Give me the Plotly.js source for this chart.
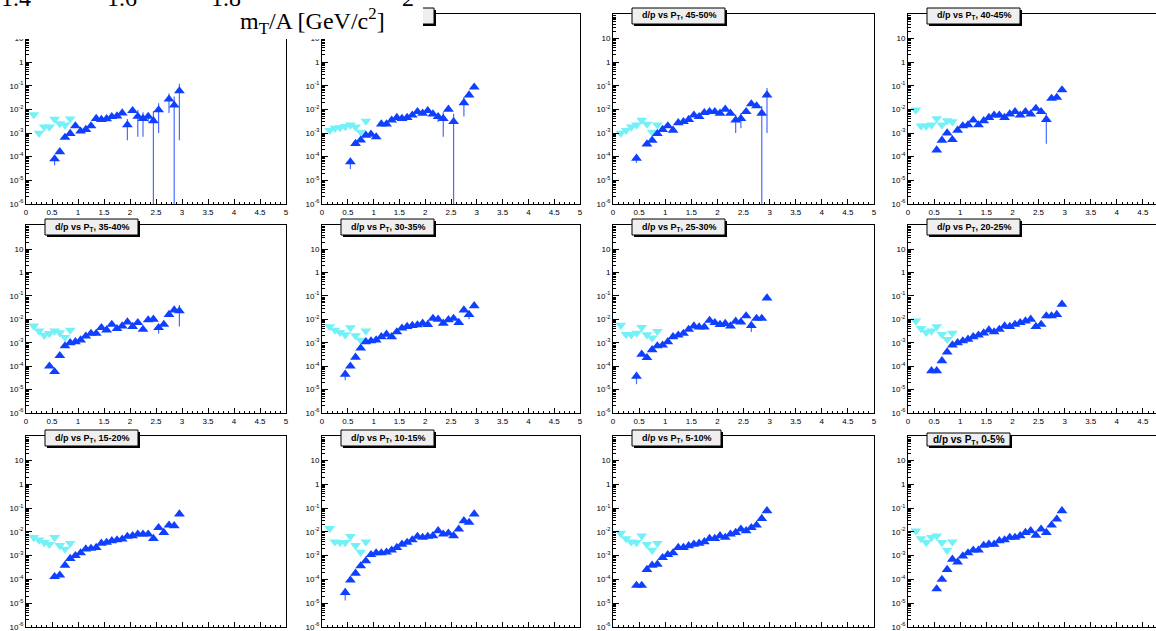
<!DOCTYPE html>
<html><head><meta charset="utf-8">
<script src="https://cdn.plot.ly/plotly-3.0.1.min.js"></script>
<style>html,body{margin:0;padding:0;overflow:hidden;background:#fff;width:1156px;height:631px}#chart{width:1172px;height:631px}</style>
</head><body><div id="chart"></div><script>
// ---- data ----
const ptBlue = [0.45,0.55,0.65,0.75,0.85,0.95,1.05,1.15,1.25,1.35,1.45,1.55,1.65,1.75,1.85,1.95,2.05,2.15,2.25,2.35,2.45,2.55,2.65,2.75,2.85,2.95];
const ptCyan = [0.15,0.25,0.35,0.45,0.55,0.65,0.75,0.85];
const panelLabels = ['', '', '45-50%', '40-45%', '35-40%', '30-35%', '25-30%', '20-25%', '15-20%', '10-15%', '5-10%', '0-5%'];
const yTickVals = [1e-6,1e-5,1e-4,1e-3,1e-2,1e-1,1,10];
const yTickText = ['10<sup>-6</sup>','10<sup>-5</sup>','10<sup>-4</sup>','10<sup>-3</sup>','10<sup>-2</sup>','10<sup>-1</sup>','1','10'];

const cyanP1  = [6e-3,1e-3,1.8e-3,1.8e-3,3.9e-3,2.5e-3,2.2e-3,4e-3];
const cyanP2  = [1.3e-3,1.6e-3,1.7e-3,1.9e-3,2.2e-3,1.8e-3,1.1e-3,3.2e-3];
const cyanP3  = [1e-3,1.3e-3,1.8e-3,2.2e-3,3.5e-3,2.4e-3,1.1e-3,2.2e-3];
const cyanP4  = [9.5e-3,2e-3,2e-3,2.2e-3,4.1e-3,2.2e-3,3.3e-3,3e-3];
const cyanP5  = [5.2e-3,3.2e-3,2.1e-3,2.5e-3,3.2e-3,2.7e-3,1.7e-3,3.5e-3];
const cyanP6  = [4.9e-3,3.5e-3,2.8e-3,2.2e-3,4.4e-3,2e-3,1.3e-3,3.2e-3];
const cyanP7  = [5.6e-3,2.3e-3,2.2e-3,2.6e-3,4.5e-3,2.2e-3,1.6e-3,3.1e-3];
const cyanP8  = [8.5e-3,4.1e-3,2.8e-3,3.2e-3,4.9e-3,2.3e-3,1.4e-3,2.6e-3];
const cyanP9  = [5.8e-3,4.6e-3,3.6e-3,3e-3,5.8e-3,2.7e-3,1.9e-3,3.3e-3];
const cyanP10 = [1.4e-2,3.8e-3,3.6e-3,3.6e-3,6.4e-3,2.7e-3,1.4e-3,3.8e-3];
const cyanP11 = [8.8e-3,5.2e-3,3.8e-3,3.6e-3,6.8e-3,3e-3,1.7e-3,3.3e-3];
const cyanP12 = [1.1e-2,5.2e-3,3.6e-3,5.8e-3,6.8e-3,3.6e-3,1.7e-3,3.8e-3];

const blueP1  = [null,8e-5,1.6e-4,6.5e-4,9.5e-4,2e-3,1.2e-3,1.4e-3,2e-3,4.1e-3,3.7e-3,4e-3,4.9e-3,5.2e-3,7e-3,2.2e-3,8.8e-3,5e-3,4.1e-3,5e-3,3.3e-3,9.5e-3,null,2.7e-2,1.5e-2,6e-2];
const blueP2  = [null,6e-5,3.6e-4,5e-4,8e-4,8.8e-4,6.8e-4,2.4e-3,2.4e-3,3.5e-3,4.5e-3,4.1e-3,4.5e-3,5.7e-3,8e-3,6.8e-3,8.8e-3,6.3e-3,4.9e-3,4.1e-3,1e-2,3e-3,null,1.9e-2,4e-2,8.6e-2];
const blueP3  = [8.5e-5,null,3.4e-4,4.9e-4,9.4e-4,1.4e-3,2e-3,1.3e-3,2.7e-3,3e-3,3.7e-3,5.7e-3,4.9e-3,7.2e-3,8e-3,8e-3,6.8e-3,1e-2,6.8e-3,3.5e-3,4.1e-3,8e-3,1.7e-2,1.4e-2,6.8e-3,4e-2];
const blueP4  = [null,1.9e-4,4.9e-4,1e-3,5.2e-4,1.3e-3,2e-3,2.2e-3,3.5e-3,2.2e-3,3.3e-3,4.5e-3,5.7e-3,5.7e-3,4.5e-3,6.3e-3,8e-3,5.7e-3,8e-3,6.3e-3,1.1e-2,8e-3,3.7e-3,2.9e-2,3.2e-2,6.6e-2];
const blueP5  = [1e-4,5.8e-5,2.8e-4,7.3e-4,1e-3,1.1e-3,1.3e-3,1.9e-3,2.5e-3,2.5e-3,4.4e-3,3.5e-3,6.1e-3,4e-3,5.2e-3,7.7e-3,4.9e-3,7.2e-3,3.7e-3,9.4e-3,1e-2,4.4e-3,6.1e-3,1.6e-2,2.5e-2,2.3e-2];
const blueP6  = [4.5e-5,1e-4,2.4e-4,5.9e-4,1.1e-3,1.2e-3,1.3e-3,1.8e-3,2.3e-3,1.8e-3,2.9e-3,4.2e-3,4.9e-3,5.4e-3,5.8e-3,6.8e-3,6e-3,1.1e-2,1e-2,6.8e-3,9.5e-3,1.1e-2,7.3e-3,2.5e-2,1.6e-2,3.8e-2];
const blueP7  = [3.7e-5,3.2e-4,2.3e-4,5e-4,7.3e-4,7.9e-4,1.1e-3,1.8e-3,2.1e-3,2.5e-3,3.7e-3,5.2e-3,4.7e-3,4.7e-3,9e-3,7.2e-3,6e-3,6.6e-3,5.2e-3,8.2e-3,7.7e-3,1.4e-2,5.4e-3,1.1e-2,1.1e-2,8.1e-2];
const blueP8  = [6.3e-5,6.3e-5,1.7e-4,4e-4,8e-4,1e-3,1.2e-3,1.4e-3,1.8e-3,2.1e-3,2.6e-3,3.5e-3,2.9e-3,3.7e-3,5.2e-3,4.9e-3,6.1e-3,7.2e-3,8.5e-3,1e-2,4.9e-3,6.1e-3,1.4e-2,1.4e-2,1.6e-2,4.4e-2];
const blueP9  = [null,1.3e-4,1.5e-4,3.9e-4,7.5e-4,1e-3,1.3e-3,1.9e-3,2e-3,2.2e-3,3.3e-3,3.6e-3,4.2e-3,4.6e-3,4.9e-3,6.4e-3,6.8e-3,8e-3,8e-3,8e-3,5.2e-3,1.5e-2,9.4e-3,1.9e-2,1.8e-2,5.6e-2];
const blueP10 = [2.8e-5,9.3e-5,1.8e-4,3.7e-4,6e-4,1.1e-3,1.3e-3,1.3e-3,1.4e-3,1.7e-3,2.2e-3,3e-3,3.6e-3,4.6e-3,6.4e-3,5.8e-3,6.4e-3,6.8e-3,1.1e-2,8e-3,8.8e-3,6.8e-3,1.3e-2,2.9e-2,2.5e-2,5.6e-2];
const blueP11 = [5.6e-5,5.6e-5,2.6e-4,3.9e-4,4.3e-4,8.2e-4,1.1e-3,1.3e-3,2.2e-3,2.2e-3,2.6e-3,3e-3,3.3e-3,3.8e-3,5.2e-3,5.2e-3,6.8e-3,5.8e-3,8e-3,9.4e-3,1.3e-2,1.1e-2,1.5e-2,1.9e-2,3.6e-2,7.7e-2];
const blueP12 = [null,4e-5,1e-4,2.6e-4,7e-4,5.4e-4,9.6e-4,1.3e-3,1.7e-3,1.7e-3,2.7e-3,3e-3,3e-3,4.2e-3,4.6e-3,5.8e-3,5.8e-3,6.8e-3,9.4e-3,1.1e-2,7.2e-3,1.3e-2,9.4e-3,1.9e-2,3.4e-2,7.7e-2];

const errP1  = [0,3.7e-5,0,0,0,0,0,0,0,0,0,0,0,0,0,1.7e-3,0,4.3e-3,3.4e-3,2e-3,5e-3,8.5e-3,0,2e-2,2e-2,5.95e-2];
const errP2  = [0,3e-5,0,0,0,0,0,0,0,0,0,0,0,0,0,0,0,0,2e-3,3.4e-3,0,3.5e-3,0,1.4e-2,0,0];
const errP3  = [3e-5,0,0,0,0,0,0,0,0,0,0,0,0,0,0,0,0,0,0,2.5e-3,2.5e-3,0,0,0,7e-3,3.9e-2];
const errP4  = [0,0,0,0,0,0,0,0,0,0,0,0,0,0,0,0,0,0,0,0,0,0,3.35e-3,0,0,0];
const errP5  = [0,0,0,0,0,0,0,0,0,0,0,0,0,0,0,0,0,0,0,0,0,2e-3,0,0,0,1.8e-2];
const errP6  = [2e-5,0,0,0,0,0,0,0,0,0,0,0,0,0,0,0,0,0,0,0,0,0,0,0,6e-3,0];
const errP7  = [2e-5,0,0,0,0,0,0,0,0,0,0,0,0,0,0,0,0,0,0,0,0,0,2.5e-3,0,0,0];
const errP8  = [0,0,0,0,0,0,0,0,0,0,0,0,0,0,0,0,0,0,0,0,0,0,0,0,0,0];
const errP9  = [0,0,0,0,0,0,0,0,0,0,0,0,0,0,0,0,0,0,0,0,0,0,0,0,0,0];
const errP10 = [1.5e-5,0,0,0,0,0,0,0,0,0,0,0,0,0,0,0,0,0,0,0,0,0,0,0,0,0];
const errP11 = [0,0,0,0,0,0,0,0,0,0,0,0,0,0,0,0,0,0,0,0,0,0,0,0,0,0];
const errP12 = [0,0,0,0,0,0,0,0,0,0,0,0,0,0,0,0,0,0,0,0,0,0,0,0,0,0];

const cyanSeries = [cyanP1,cyanP2,cyanP3,cyanP4,cyanP5,cyanP6,cyanP7,cyanP8,cyanP9,cyanP10,cyanP11,cyanP12];
const blueSeries = [blueP1,blueP2,blueP3,blueP4,blueP5,blueP6,blueP7,blueP8,blueP9,blueP10,blueP11,blueP12];
const errSeries  = [errP1,errP2,errP3,errP4,errP5,errP6,errP7,errP8,errP9,errP10,errP11,errP12];

// ---- layout geometry (pixels) ----
const W = 1172, H = 631;
const colPx = [[26,286],[322,580],[613,874],[908,1169]];
const rowPx = [[14,204],[225,413],[436,627]];
const px = v => v / W;
const py = v => 1 - v / H;

const BLUE = '#1040ff', CYAN = '#74f1f6', ERR = '#4a6cff';
const tickFont = {family:'Liberation Sans, Arial, sans-serif', size:8, color:'#000'};

const traces = [];
const layout = {
  width: W, height: H, margin:{l:0,r:0,t:0,b:0,pad:0},
  paper_bgcolor:'#fff', plot_bgcolor:'#fff', showlegend:false,
  shapes: [], annotations: []
};

for (let i = 0; i < 12; i++) {
  const r = Math.floor(i/4), c = i % 4, n = i + 1, sx = n === 1 ? '' : String(n);
  const [cx0, cx1] = colPx[c], [ry0, ry1] = rowPx[r];
  layout['xaxis' + sx] = {
    domain: [px(cx0), px(cx1)], range: [0, 5], anchor: 'y' + sx,
    showline: true, linecolor: '#000', linewidth: 1, mirror: true,
    ticks: 'inside', ticklen: 5, tickwidth: 1, tickcolor: '#000',
    tick0: 0, dtick: 0.5, tickfont: tickFont, showgrid: false, zeroline: false,
    ticklabeloverflow: 'allow',
    minor: {ticks: 'inside', ticklen: 2.5, tickwidth: 1, tickcolor: '#000', dtick: 0.1, tick0: 0, showgrid: false},
    fixedrange: true
  };
  layout['yaxis' + sx] = {
    type: 'log', domain: [py(ry1), py(ry0)], range: [-6, 2.03], anchor: 'x' + sx,
    showline: true, linecolor: '#000', linewidth: 1, mirror: true,
    ticks: 'inside', ticklen: 6, tickwidth: 1, tickcolor: '#000',
    tickmode: 'array', tickvals: yTickVals, ticktext: yTickText,
    tickfont: tickFont, showgrid: false, zeroline: false,
    ticklabeloverflow: 'allow',
    minor: {ticks: 'inside', ticklen: 3, tickwidth: 1, tickcolor: '#000', dtick: 'D1', showgrid: false},
    fixedrange: true
  };
  traces.push({
    type: 'scatter', mode: 'markers', x: ptCyan, y: cyanSeries[i],
    xaxis: 'x' + sx, yaxis: 'y' + sx,
    marker: {symbol: 'triangle-down', size: 9.5, color: CYAN, line: {width: 0}}
  });
  traces.push({
    type: 'scatter', mode: 'markers', x: ptBlue, y: blueSeries[i],
    xaxis: 'x' + sx, yaxis: 'y' + sx,
    marker: {symbol: 'triangle-up', size: 9.5, color: BLUE, line: {width: 0}},
    error_y: {type: 'data', symmetric: true, array: errSeries[i], visible: true, color: ERR, thickness: 1.2, width: 0}
  });

  // title boxes (ROOT-style pave with shadow)
  if (i >= 1) {
    const bw = (i === 10) ? 89 : (i === 11 ? 83 : 93);
    const bl = cx0 + 19;
    const bt = (i === 11) ? ry0 - 3 : ry0 - 6;
    const bh = (i === 11) ? 13 : 16;
    layout.shapes.push({type:'rect', xref:'paper', yref:'paper', layer:'above',
      x0: px(bl + 2), x1: px(bl + bw + 2), y0: py(bt + bh + 2), y1: py(bt + 2),
      fillcolor:'#000', line:{width:0}});
    layout.shapes.push({type:'rect', xref:'paper', yref:'paper', layer:'above',
      x0: px(bl), x1: px(bl + bw), y0: py(bt + bh), y1: py(bt),
      fillcolor:'#efefef', line:{color:'#000', width:1}});
    if (panelLabels[i]) {
      layout.annotations.push({xref:'paper', yref:'paper', x: px(bl + bw/2), y: py(bt + bh/2),
        xanchor:'center', yanchor:'middle', showarrow:false,
        text: 'd/p vs P<sub>T</sub>, ' + panelLabels[i],
        font: {family:'Liberation Sans, Arial, sans-serif', size: (i === 11 ? 10 : 9), weight: 700, color:'#000'}});
    }
  }
}

// white cut-out of the overlapping figure in the top-left corner
layout.shapes.push({type:'rect', xref:'paper', yref:'paper', layer:'above',
  x0: px(-2), x1: px(423), y0: py(39), y1: py(-2), fillcolor:'#fff', line:{width:0}});

const serif = {family:'Liberation Serif, Times New Roman, serif', size: 24, color:'#000'};
layout.annotations.push({xref:'paper', yref:'paper', x: px(238), y: py(21), xanchor:'left', yanchor:'middle',
  showarrow:false, text:'m<sub>T</sub>/A [GeV/c<sup>2</sup>]', font: serif});
const cutLabels = [['1.4', 16], ['1.6', 122], ['1.8', 226], ['2', 408]];
cutLabels.forEach(([t, xc]) => {
  layout.annotations.push({xref:'paper', yref:'paper', x: px(xc), y: py(13), xanchor:'center', yanchor:'bottom',
    showarrow:false, text: t, font: serif});
});

Plotly.newPlot('chart', traces, layout, {displayModeBar:false, staticPlot:true});
</script></body></html>
